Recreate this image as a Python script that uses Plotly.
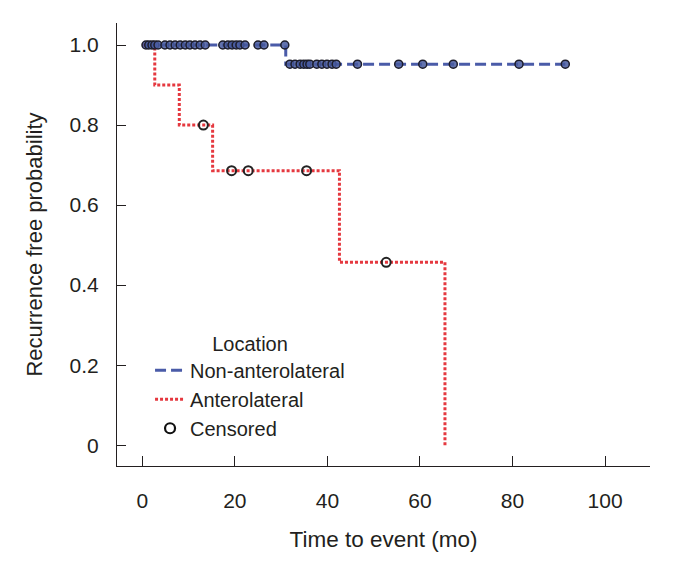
import plotly.graph_objects as go

# Kaplan-Meier step curves (time in months, survival probability)
non_al_time = [0.0, 31.0, 91.4]
non_al_surv = [1.0, 0.952, 0.952]

al_time = [0.0, 2.7, 8.0, 15.2, 42.6, 65.4]
al_surv = [1.0, 0.9, 0.8, 0.686, 0.457, 0.0]

# Censored observations
non_al_cens_time = [0.8, 1.4, 2.1, 2.7, 3.4, 4.9, 6.0, 7.1, 8.2, 9.3, 10.3, 11.4, 12.5, 13.6,
                    17.4, 18.5, 19.4, 20.3, 21.1, 22.2, 25.0, 26.3, 30.8,
                    31.9, 33.0, 34.1, 34.9, 35.6, 36.2, 37.7, 38.8, 39.9, 41.0, 41.9,
                    46.5, 55.4, 60.6, 67.2, 81.4, 91.4]
non_al_cens_surv = [1.0] * 23 + [0.952] * 17

al_cens_time = [13.2, 19.3, 22.9, 35.5, 52.7]
al_cens_surv = [0.8, 0.686, 0.686, 0.686, 0.457]

x_ticks = [0, 20, 40, 60, 80, 100]
y_ticks = [0, 0.2, 0.4, 0.6, 0.8, 1.0]
y_ticktext = ["0", "0.2", "0.4", "0.6", "0.8", "1.0"]

BLUE = "#4a5ba8"
RED = "#e5383f"
FONT = "Liberation Sans, Arial, sans-serif"

fig = go.Figure()
fig.add_trace(go.Scatter(x=non_al_time, y=non_al_surv, mode="lines", line_shape="hv",
                         name="Non-anterolateral",
                         line=dict(color=BLUE, width=3, dash="11px,5px")))
fig.add_trace(go.Scatter(x=al_time, y=al_surv, mode="lines", line_shape="hv",
                         name="Anterolateral",
                         line=dict(color=RED, width=3, dash="3px,2px")))
fig.add_trace(go.Scatter(x=non_al_cens_time, y=non_al_cens_surv, mode="markers",
                         showlegend=False,
                         marker=dict(symbol="circle", size=8, color="rgba(72,90,160,0.85)",
                                     line=dict(color="#1d1d2a", width=1.5))))
fig.add_trace(go.Scatter(x=al_cens_time, y=al_cens_surv, mode="markers",
                         showlegend=False,
                         marker=dict(symbol="circle-open", size=9, color="#222",
                                     line=dict(color="#222", width=2))))
fig.add_trace(go.Scatter(x=[None], y=[None], mode="markers", name="Censored",
                         marker=dict(symbol="circle-open", size=10, color="#111",
                                     line=dict(color="#111", width=2.2))))

fig.update_layout(
    width=673, height=572,
    margin=dict(l=109, r=31, t=15, b=114),
    paper_bgcolor="white", plot_bgcolor="white",
    font=dict(family=FONT, size=20, color="#231f20"),
    showlegend=True,
    legend=dict(x=0.062, y=0.18, xanchor="left", yanchor="middle",
                title=dict(text="Location", side="top center", font=dict(size=20)),
                font=dict(size=20), bgcolor="rgba(0,0,0,0)", tracegroupgap=0),
    xaxis=dict(range=[-5.46, 109.7], tickvals=x_ticks, ticks="inside", ticklen=10,
               tickcolor="#231f20", showline=True, linecolor="#231f20", linewidth=1,
               showgrid=False, zeroline=False, ticklabelstandoff=16,
               tickfont=dict(size=21),
               title=dict(text="Time to event (mo)", font=dict(size=22.5), standoff=20)),
    yaxis=dict(range=[-0.052, 1.055], tickvals=y_ticks, ticktext=y_ticktext,
               ticks="inside", ticklen=9, tickcolor="#231f20", showline=True,
               linecolor="#231f20", linewidth=1, showgrid=False, zeroline=False,
               ticklabelstandoff=13, tickfont=dict(size=21),
               title=dict(text="Recurrence free probability", font=dict(size=22), standoff=20)),
)

fig.write_html("out.html")
